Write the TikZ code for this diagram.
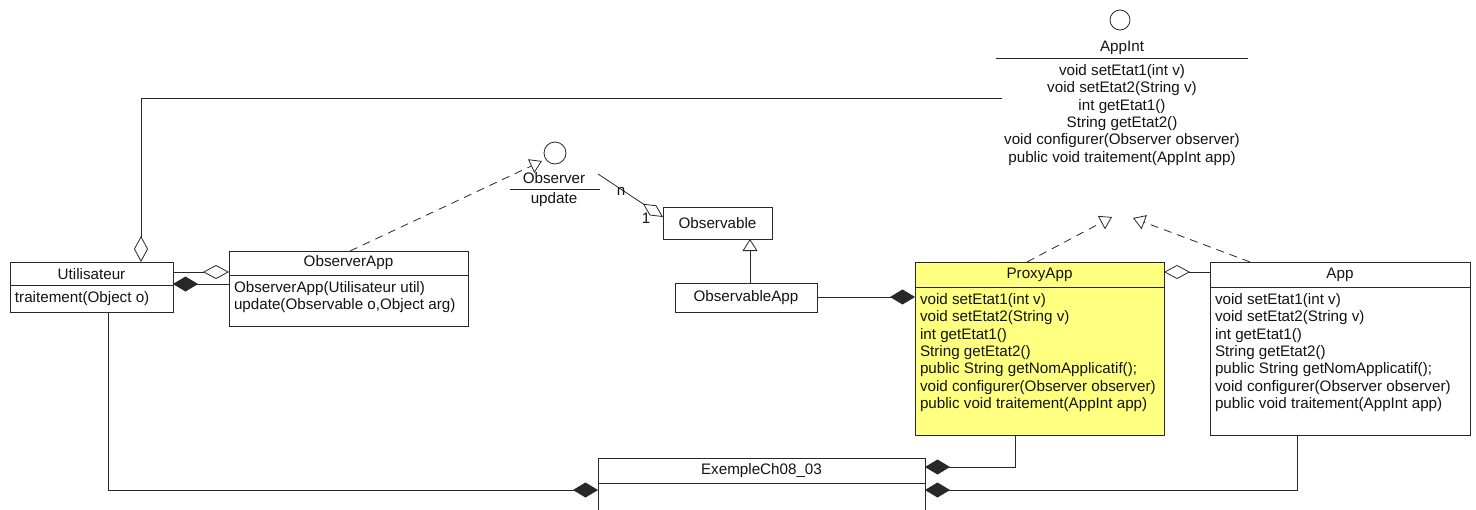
\documentclass[tikz,border=0pt]{standalone}
\usepackage{fontspec}
\setmainfont{Liberation Sans}
\usetikzlibrary{arrows.meta,calc}
\definecolor{ln}{RGB}{40,40,40}
\definecolor{txt}{RGB}{20,20,20}
\definecolor{proxyfill}{RGB}{255,255,128}
\tikzset{
  odia/.tip={Diamond[open,length=26pt,width=14pt]},
  fdia/.tip={Diamond[length=25pt,width=15pt]},
  otri/.tip={Triangle[open,length=12pt,width=15pt]},
}
\begin{document}
\begin{tikzpicture}[x=1pt,y=-1pt,
  every node/.style={font=\fontsize{15.2}{17.3}\selectfont, text=txt, inner sep=0pt, outer sep=0pt},
  cls/.style={draw=ln, line width=0.8pt, anchor=north west, fill=white},
  meth/.style={align=left, anchor=north west},
  conn/.style={draw=ln, line width=0.8pt},
  dsh/.style={conn, dash pattern=on 8pt off 6pt},
  lolli/.style={draw=ln, line width=0.8pt, circle, fill=white},
]
\useasboundingbox[fill=white] (0,0) rectangle (1476,509);

% ---------- AppInt interface ----------
\node[lolli, minimum size=20pt] (appintC) at (1120,20) {};
\node (appintT) at (1122,48) {AppInt};
\node[align=center, anchor=north] (appintM) at (1122,64.5) {void setEtat1(int v)\\void setEtat2(String v)\\int getEtat1()\\String getEtat2()\\void configurer(Observer observer)\\public void traitement(AppInt app)};
\coordinate (appintL) at (996,58);
\coordinate (appintR) at (1248,58);
\draw[conn] (appintL) -- (appintR);

% ---------- Observer interface ----------
\node[lolli, minimum size=22pt] (observerC) at (555,153) {};
\node (observerT) at (554,178) {Observer};
\coordinate (observerL) at (510,189);
\coordinate (observerR) at (600,189);
\draw[conn] (observerL) -- (observerR);
\node (observerM) at (554,200) {update};

% ---------- Utilisateur ----------
\node[cls, minimum width=163pt, minimum height=50pt] (util) at (10,262) {};
\draw[conn] ($(util.north west)+(0,23)$) -- ($(util.north east)+(0,23)$);
\node (utilT) at ($(util.north)+(0,12)$) {Utilisateur};
\node[meth] (utilM) at ($(util.north west)+(5,29.5)$) {traitement(Object o)};

% ---------- ObserverApp ----------
\node[cls, minimum width=239pt, minimum height=75pt] (obsapp) at (229,251) {};
\draw[conn] ($(obsapp.north west)+(0,24)$) -- ($(obsapp.north east)+(0,24)$);
\node (obsappT) at ($(obsapp.north)+(0,12)$) {ObserverApp};
\node[meth] (obsappM) at ($(obsapp.north west)+(5,30.5)$) {ObserverApp(Utilisateur util)\\update(Observable o,Object arg)};

% ---------- Observable ----------
\node[cls, minimum width=109pt, minimum height=32pt] (observable) at (663,207) {};
\node (observableT) at (observable.center) {Observable};

% ---------- ObservableApp ----------
\node[cls, minimum width=142pt, minimum height=29pt] (observableapp) at (675,283) {};
\node (observableappT) at (observableapp.center) {ObservableApp};

% ---------- ProxyApp ----------
\node[cls, fill=proxyfill, minimum width=249pt, minimum height=173pt] (proxy) at (915,262) {};
\draw[conn] ($(proxy.north west)+(0,25)$) -- ($(proxy.north east)+(0,25)$);
\node (proxyT) at ($(proxy.north)+(0,13)$) {ProxyApp};
\node[meth] (proxyM) at ($(proxy.north west)+(5,31.5)$) {void setEtat1(int v)\\void setEtat2(String v)\\int getEtat1()\\String getEtat2()\\public String getNomApplicatif();\\void configurer(Observer observer)\\public void traitement(AppInt app)};

% ---------- App ----------
\node[cls, minimum width=260pt, minimum height=173pt] (app) at (1210,262) {};
\draw[conn] ($(app.north west)+(0,25)$) -- ($(app.north east)+(0,25)$);
\node (appT) at ($(app.north)+(0,13)$) {App};
\node[meth] (appM) at ($(app.north west)+(5,31.5)$) {void setEtat1(int v)\\void setEtat2(String v)\\int getEtat1()\\String getEtat2()\\public String getNomApplicatif();\\void configurer(Observer observer)\\public void traitement(AppInt app)};

% ---------- ExempleCh08_03 ----------
\node[cls, minimum width=327pt, minimum height=80pt] (ex) at (598,458) {};
\draw[conn] ($(ex.north west)+(0,25)$) -- ($(ex.north east)+(0,25)$);
\node (exT) at ($(ex.north)+(0,12.5)$) {ExempleCh08\_03};

% ---------- free ends ----------
\coordinate (appintIn) at (1002,98);
\coordinate (obsTip) at (542,161);
\coordinate (obsAssoc) at (598,174);
\coordinate (tipProxy) at (1112,217);
\coordinate (tipApp) at (1133,218);

% ---------- connectors ----------
% Utilisateur -> AppInt
\draw[conn, odia-] ($(util.north west)+(131,0)$) |- (appintIn);
% Utilisateur <>- ObserverApp
\draw[conn, -odia] ($(util.north east)+(0,10)$) -- ($(obsapp.north west)+(0,21)$);
\draw[conn, fdia-] ($(util.north east)+(0,22)$) -- ($(obsapp.north west)+(0,33)$);
% ObserverApp realizes Observer
\draw[dsh, -otri] ($(obsapp.north west)+(121,0)$) -- (obsTip);
% Observer -- Observable
\draw[conn, -{Diamond[open,length=24pt,width=12pt]}] (obsAssoc) -- ($(observable.north west)+(0,10)$);
\node (labN) at (621,191) {n};
\node (lab1) at (646,218) {1};
% ObservableApp -> Observable
\draw[conn, -otri] ($(observableapp.north west)+(75,0)$) -- ($(observable.south west)+(87,0)$);
% ObservableApp -- ProxyApp
\draw[conn, -fdia] ($(observableapp.north east)+(0,14)$) -- ($(proxy.north west)+(0,35)$);
% ProxyApp, App realize AppInt
\draw[dsh, -otri] ($(proxy.north west)+(112,0)$) -- (tipProxy);
\draw[dsh, -otri] ($(app.north west)+(40,0)$) -- (tipApp);
% App -- ProxyApp
\draw[conn, -odia] ($(app.north west)+(0,10)$) -- ($(proxy.north east)+(0,10)$);
% compositions into ExempleCh08_03
\draw[conn, -fdia] ($(proxy.south west)+(100,0)$) |- ($(ex.north east)+(0,9)$);
\draw[conn, -fdia] ($(app.south west)+(87,0)$) |- ($(ex.north east)+(0,32)$);
\draw[conn, -fdia] ($(util.south west)+(98,0)$) |- ($(ex.north west)+(0,32)$);
\end{tikzpicture}
\end{document}
